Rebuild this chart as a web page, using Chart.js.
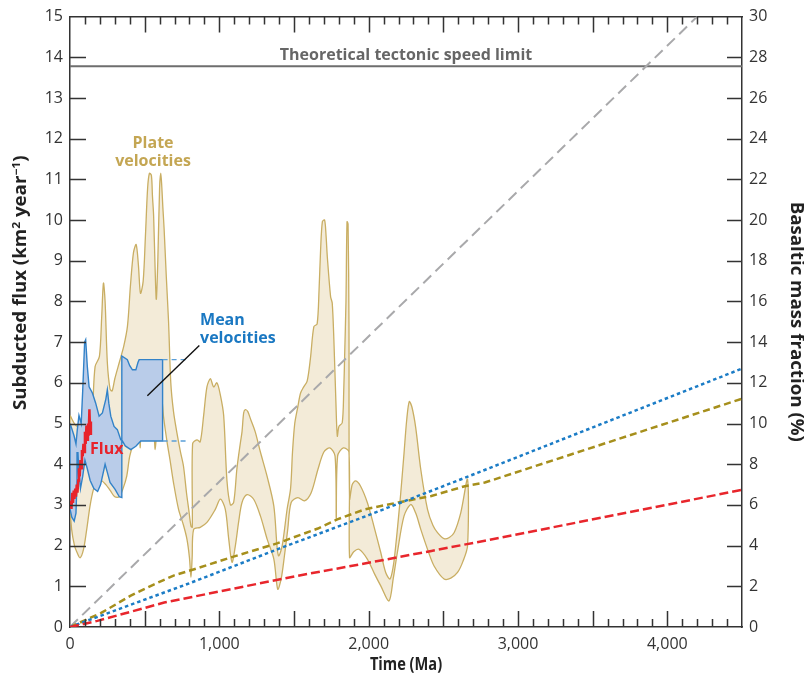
<!DOCTYPE html>
<html>
<head>
<meta charset="utf-8">
<script src="https://cdn.jsdelivr.net/npm/chart.js@4.4.1/dist/chart.umd.min.js"></script>
<style>
  html, body { margin: 0; padding: 0; background: #fff; }
  canvas { display: block; }
</style>
</head>
<body>
<canvas id="chart" width="804" height="675"></canvas>
<script>
// axis ranges and tick labels
const timeMin = 0, timeMax = 4500;     // Ma
const timeTicks = [0, 1000, 2000, 3000, 4000];
const fluxMax = 15;                    // km2/yr, left axis
const fracMax = 30;                    // %, right axis

// theoretical tectonic speed limit (left axis)
const speedLimit = 13.78;

// plate velocities envelope (left axis)
const plateTopTime = [0,40,100,134,150,168,197,212,224,235, 250,268,282,300,330,360,385,405,425,443,
  458,472,490,505,520,532,545,552,560,570, 578,588,600,608,615,622,630,645,660,675,
  693,716,740,760,780,795,810,819,821,850, 872,895,917,940,962,984,1007,1029,1051,1074,
  1096,1118,1140,1152,1163,1174,1190,1210,1240,1275, 1320,1365,1387,1398,1421,1454,1477,1490,1505,1525,
  1544,1565,1588,1610,1633,1655,1668,1678,1690,1705, 1715,1723,1745,1756,1767,1780,1790,1801,1823,1833,
  1839,1848,1855,1862,1868,1872,1890,1913,1946,1991, 2035,2081,2114,2143,2165,2181,2200,2215,2237,2255,
  2272,2290,2315,2349,2394,2430,2461,2505,2540,2573, 2617,2662];
const plateTopFlux = [5.2,4.95,4.85,4.9,5.3,6.4,6.65,7.6,8.45,8.0, 6.5,5.85,5.8,6.1,6.5,6.9,7.4,8.4,9.2,9.4,
  8.9,8.2,8.5,9.6,10.8,11.15,11.1,10.6,10.1,8.8, 8.05,9.0,10.8,11.15,10.8,10.3,9.8,8.6,7.5,6.0,
  5.3,4.77,4.3,3.95,3.3,2.89,2.48,2.45,4.5,4.6, 4.55,5.2,5.9,6.1,5.9,6.0,5.7,5.2,3.6,3.0,
  3.06,3.9,4.5,4.8,5.26,5.34,5.3,5.1,4.8,4.3, 3.7,2.97,1.95,1.75,2.0,2.9,3.4,4.3,5.0,5.4,
  5.75,5.9,6.04,6.6,7.38,7.45,8.3,9.26,9.96,10.0, 9.6,9.1,8.12,7.96,7.06,5.6,4.69,4.93,5.02,5.8,
  6.65,8.0,9.96,9.9,7.5,3.14,3.5,3.59,3.46,3.06, 2.48,1.83,1.34,1.18,1.5,1.99,2.7,3.3,4.28,5.1,
  5.54,5.4,4.9,3.87,2.89,2.5,2.32,2.17,2.2,2.32, 2.81,3.63];
const plateBottomTime = [0,11,30,45,67,90,112,134,157,180, 210,240,270,300,330,355,380,400,425,450,
  465,470,476,500,540,562,570,578,600,615, 626,649,670,693,727,760,783,800,810,818,
  828,872,917,973,1007,1040,1063,1085,1107,1130, 1152,1186,1230,1275,1320,1365,1391,1414,1436,1458,
  1481,1526,1570,1615,1660,1700,1740,1775,1783,1792, 1830,1868,1872,1900,1935,1991,2040,2081,2136,2165,
  2192,2237,2282,2315,2349,2400,2438,2505,2550,2595, 2630,2662];
const plateBottomFlux = [3.0,2.4,2.0,1.85,1.7,1.9,2.4,2.97,3.38,3.6, 3.6,3.5,3.35,3.2,3.2,3.4,3.71,4.2,4.5,4.65,
  4.65,4.4,4.65,4.7,4.7,4.65,4.36,4.65,5.2,5.59, 5.18,4.57,4.1,3.55,2.89,2.5,2.16,1.7,1.22,1.7,
  2.4,2.45,2.57,2.89,3.14,2.89,2.16,1.59,1.99,2.6, 3.06,3.25,3.14,2.73,2.16,1.67,0.93,1.18,1.75,2.4,
  3.06,3.18,3.1,3.3,3.87,4.3,4.4,4.2,2.65,4.2, 4.4,4.3,1.71,1.85,1.91,1.67,1.3,1.01,0.64,1.2,
  1.83,2.73,3.01,2.8,2.4,1.85,1.5,1.18,1.2,1.34, 1.6,1.99];

// mean velocities band (left axis)
const meanTopTime = [0,10,27,40,49,60,75,85,98,105, 116,128,150,172,195,217,240,250,260,273,
  295,317,340,347, 347,384,400,418,441,455,463,620];
const meanTopFlux = [5.0,4.9,4.7,4.5,4.85,5.2,5.0,5.8,7.0,7.06, 6.4,5.9,5.75,5.5,5.18,5.26,5.6,5.83,5.5,5.18,
  4.93,4.85,4.6,4.6, 6.66,6.57,6.42,6.32,6.32,6.5,6.57,6.57];
const meanBottomTime = [0,12,28,40,47,53,60,70,85,100, 115,135,160,185,205,235,250,268,302,330,
  347, 347,370,407,441,474,620];
const meanBottomFlux = [2.9,2.7,2.6,2.8,3.6,4.3,3.8,3.4,3.7,4.1, 3.9,3.6,3.4,3.33,3.5,4.0,3.8,3.55,3.38,3.2,
  3.18, 4.6,4.45,4.36,4.44,4.57,4.57];
// dashed continuation of the mean band
const meanExtTime = [620, 800];
const meanExtTop = [6.57, 6.57];
const meanExtBottom = [4.57, 4.57];

// subducted flux (left axis)
const fluxTime = [0,5,10,15,20,25,30,35,40,45,50,55,60,65,70,75,80,85,90,95,100,105,110,115,120,125,130,135,140];
const fluxValue = [2.95,3.1,2.9,3.3,3.05,3.35,3.15,3.4,3.2,3.5,3.3,3.6,3.9,3.7,4.1,3.9,4.35,4.2,4.5,4.3,
  4.8,4.5,4.95,4.6,5.0,4.7,5.35,4.75,5.05];

// basaltic mass fraction curves (right axis, %)
const grayTime = [0, 4200];
const grayFrac = [0, 30];
const blueTime = [0, 800, 1400, 2000, 2650, 4500];
const blueFrac = [0, 2.15, 3.85, 5.5, 7.35, 12.7];
const oliveTime = [0,206,407,564,698,832,1078,1391,1660,1794,1973,2197,2420,2644,2778,4500];
const oliveFrac = [0,0.68,1.54,2.1,2.54,2.84,3.42,4.12,4.84,5.3,5.78,6.12,6.44,6.92,7.1,11.22];
const redTime = [0,183,631,1078,1526,1973,2420,2778,4500];
const redFrac = [0,0.3,1.2,1.86,2.52,3.12,3.74,4.24,6.74];

// leader line for the "Mean velocities" label (left axis)
const leaderTime = [518, 866];
const leaderFlux = [5.68, 6.92];

const fontFamily = '"Open Sans", "Noto Sans", "DejaVu Sans", sans-serif';
const axisColor = '#333';

function pts(ts, vs) {
  return ts.map((t, i) => ({ x: t, y: vs[i] }));
}
// closed outline: top edge forward, bottom edge back, then close
function band(tt, tv, bt, bv) {
  const top = pts(tt, tv);
  const bottom = pts(bt, bv).reverse();
  return top.concat(bottom, [top[0]]);
}

function line(data, color, width, dash, axis, order) {
  return {
    data: data, yAxisID: axis, borderColor: color, borderWidth: width,
    borderDash: dash, pointRadius: 0, tension: 0, fill: false, order: order
  };
}

const datasets = [
  Object.assign(line(band(plateTopTime, plateTopFlux, plateBottomTime, plateBottomFlux), '#c9ae63', 1.3, [], 'y', 20),
    { fill: 'shape', backgroundColor: '#f3ebd8', tension: 0.3 }),
  Object.assign(line(band(meanTopTime, meanTopFlux, meanBottomTime, meanBottomFlux), '#3282c8', 1.4, [], 'y', 15),
    { fill: 'shape', backgroundColor: '#b9cce9' }),
  line(pts(meanExtTime, meanExtTop), '#5a9fd8', 1.4, [5, 4], 'y', 14),
  line(pts(meanExtTime, meanExtBottom), '#5a9fd8', 1.4, [5, 4], 'y', 14),
  line(pts([timeMin, timeMax], [speedLimit, speedLimit]), '#6e6e6e', 2, [], 'y', 12),
  line(pts(grayTime, grayFrac), '#a9a9ab', 2, [11, 6], 'y2', 10),
  line(pts(oliveTime, oliveFrac), '#a68f1c', 2.5, [7, 4], 'y2', 8),
  line(pts(blueTime, blueFrac), '#1b7cc6', 2.5, [3.5, 3], 'y2', 7),
  line(pts(redTime, redFrac), '#e8262c', 2.5, [9, 4], 'y2', 6),
  line(pts(leaderTime, leaderFlux), '#111', 1.4, [], 'y', 4),
  line(pts(fluxTime, fluxValue), '#e8232b', 2.5, [], 'y', 2)
];

// text labels placed in data coordinates
const notes = [
  { text: 'Theoretical tectonic speed limit', t: 2250, v: 14.05, align: 'center', color: '#666', weight: 'bold' },
  { text: 'Plate', t: 556, v: 11.88, align: 'center', color: '#c4a653', weight: 'bold' },
  { text: 'velocities', t: 556, v: 11.45, align: 'center', color: '#c4a653', weight: 'bold' },
  { text: 'Mean', t: 871, v: 7.54, align: 'left', color: '#1a78c2', weight: 'bold' },
  { text: 'velocities', t: 871, v: 7.08, align: 'left', color: '#1a78c2', weight: 'bold' },
  { text: 'Flux', t: 134, v: 4.37, align: 'left', color: '#e8232b', weight: 'bold' }
];

const noteLabels = {
  id: 'noteLabels',
  afterDatasetsDraw(chart) {
    const { ctx, scales } = chart;
    ctx.save();
    ctx.textBaseline = 'middle';
    notes.forEach(n => {
      ctx.font = n.weight + ' 16px ' + fontFamily;
      ctx.fillStyle = n.color;
      ctx.textAlign = n.align;
      ctx.fillText(n.text, scales.x.getPixelForValue(n.t), scales.y.getPixelForValue(n.v));
    });
    ctx.restore();
  }
};

// tick marks pointing into the plot, on all four sides
const inwardTicks = {
  id: 'inwardTicks',
  afterDraw(chart) {
    const { ctx, chartArea: a, scales } = chart;
    ctx.save();
    ctx.strokeStyle = axisColor;
    ctx.lineWidth = 1.5;
    ctx.beginPath();
    for (let t = timeMin + 100; t < timeMax; t += 100) {
      const x = Math.round(scales.x.getPixelForValue(t)) + 0.5;
      const len = t % 500 === 0 ? 16 : 8;
      ctx.moveTo(x, a.bottom); ctx.lineTo(x, a.bottom - len);
      ctx.moveTo(x, a.top); ctx.lineTo(x, a.top + len);
    }
    for (let v = 1; v < fluxMax; v++) {
      const y = Math.round(scales.y.getPixelForValue(v)) + 0.5;
      ctx.moveTo(a.left, y); ctx.lineTo(a.left + 16, y);
    }
    for (let v = 2; v < fracMax; v += 2) {
      const y = Math.round(scales.y2.getPixelForValue(v)) + 0.5;
      ctx.moveTo(a.right, y); ctx.lineTo(a.right - 15, y);
    }
    ctx.stroke();
    ctx.restore();
  }
};

// axis titles (left one has real superscripts); stretch = width factor along the text
function drawTitle(ctx, parts, x, y, angle, size, stretch) {
  const big = 'bold ' + size + 'px ' + fontFamily;
  const small = 'bold 11px ' + fontFamily;
  let total = 0;
  parts.forEach(p => { ctx.font = p[1] ? small : big; total += ctx.measureText(p[0]).width; });
  ctx.save();
  ctx.translate(x, y);
  ctx.rotate(angle);
  ctx.scale(stretch, 1);
  ctx.textBaseline = 'middle';
  ctx.textAlign = 'left';
  ctx.fillStyle = '#222';
  let pos = -total / 2;
  parts.forEach(p => {
    ctx.font = p[1] ? small : big;
    ctx.fillText(p[0], pos, p[1] ? -5 : 0);
    pos += ctx.measureText(p[0]).width;
  });
  ctx.restore();
}

const axisTitles = {
  id: 'axisTitles',
  afterDraw(chart) {
    const { ctx, scales, chartArea: a } = chart;
    drawTitle(ctx, [['Subducted flux (km', false], ['2', true], [' year', false], ['\u22121', true], [')', false]],
      21.5, scales.y.getPixelForValue(8.46), -Math.PI / 2, 17, 1.1);
    drawTitle(ctx, [['Basaltic mass fraction (%)', false]],
      796, scales.y2.getPixelForValue(15), Math.PI / 2, 17, 1.1);
    drawTitle(ctx, [['Time (Ma)', false]],
      (a.left + a.right) / 2, 665.5, 0, 17, 0.86);
  }
};

const tickFont = { family: fontFamily, size: 16 };

new Chart(document.getElementById('chart'), {
  type: 'line',
  data: { datasets: datasets },
  options: {
    responsive: false,
    animation: false,
    events: [],
    layout: { padding: 0 },
    plugins: { legend: { display: false }, tooltip: { enabled: false } },
    scales: {
      x: {
        type: 'linear', position: 'bottom', min: timeMin, max: timeMax,
        grid: { display: false, drawTicks: false },
        border: { display: true, color: axisColor, width: 1.5 },
        afterBuildTicks: s => { s.ticks = timeTicks.map(v => ({ value: v })); },
        ticks: {
          autoSkip: false, maxRotation: 0,
          padding: 8, color: axisColor, font: tickFont,
          callback: v => v.toLocaleString('en-US')
        },
        afterFit: s => { s.height = 48; }
      },
      xTop: {
        type: 'linear', position: 'top', min: timeMin, max: timeMax,
        grid: { display: false, drawTicks: false },
        border: { display: true, color: axisColor, width: 1.5 },
        ticks: { display: false },
        afterFit: s => { s.height = 16; }
      },
      y: {
        type: 'linear', position: 'left', min: 0, max: fluxMax,
        grid: { display: false, drawTicks: false },
        border: { display: true, color: axisColor, width: 1.5 },
        ticks: { stepSize: 1, padding: 7, color: axisColor, font: tickFont },
        afterFit: s => { s.width = 70; }
      },
      y2: {
        type: 'linear', position: 'right', min: 0, max: fracMax,
        grid: { display: false, drawTicks: false },
        border: { display: true, color: axisColor, width: 1.5 },
        ticks: { stepSize: 2, padding: 7, color: axisColor, font: tickFont },
        afterFit: s => { s.width = 62; }
      }
    }
  },
  plugins: [noteLabels, inwardTicks, axisTitles]
});
</script>
</body>
</html>
